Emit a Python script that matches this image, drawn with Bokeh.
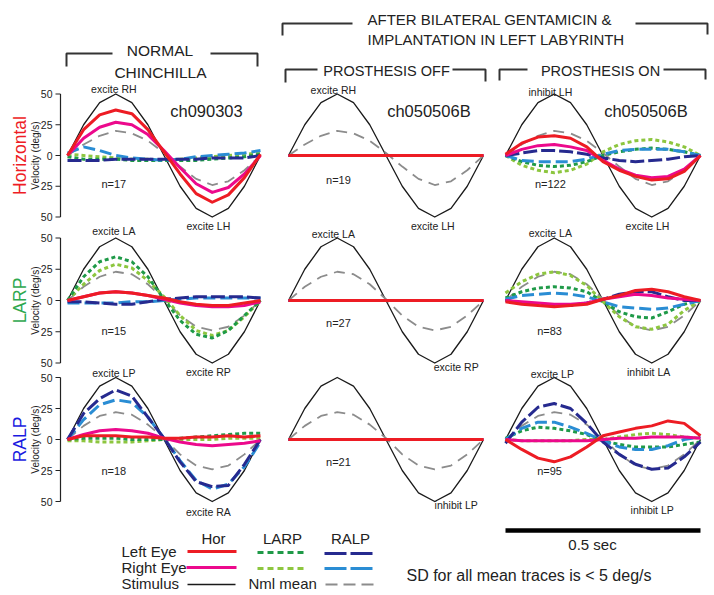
from math import pi
from bokeh.plotting import figure
from bokeh.models import Range1d
from bokeh.core.properties import value
from bokeh.embed import file_html
from bokeh.resources import INLINE

# ---------------- data ----------------
T = [0.0, 0.0417, 0.0833, 0.125, 0.1667, 0.2083, 0.25, 0.2917, 0.3333, 0.375, 0.4167, 0.4583, 0.5]  # s
STIM = [0, 25, 43, 50, 43, 25, 0, -25, -43, -50, -43, -25, 0]
NML_HOR = [0, 9, 16, 20, 18, 12, 2, -9, -19, -24, -21, -12, 0]
NML_LARP = [0, 11, 19, 23, 21, 13, 1, -12, -21, -24, -21, -12, 0]
NML_RALP = [0, 11, 19, 22, 20, 12, 1, -12, -21, -24, -21, -12, 0]
FLAT = [0, 0, 0, 0, 0, 0, 0, 0, 0, 0, 0, 0, 0]

HOR_NORMAL = dict(
    hor_L=[0, 21, 33, 37, 34, 21, 3, -15, -31, -38, -32, -18, 1],
    hor_R=[0, 14, 23, 27, 25, 17, 4, -10, -23, -30, -26, -15, 0],
    larp_L=[-1, -3, -3, -3, -4, -4, -4, -4, -4, -3, -2, -1, 1],
    larp_R=[1, 0, -1, -2, -3, -3, -4, -3, -2, -1, 0, 1, 2],
    ralp_L=[-4, -4, -4, -3, -3, -3, -3, -3, -3, -2, -2, -2, 0],
    ralp_R=[2, 7, 4, 0, -2, -3, -4, -3, -1, 0, 1, 2, 4])
LARP_NORMAL = dict(
    hor_L=[0, 3, 6, 7, 6, 4, 2, -1, -3, -4, -4, -2, 0],
    hor_R=[0, 3, 6, 7, 6, 4, 1, -2, -4, -5, -5, -4, -1],
    larp_L=[0, 19, 31, 35, 31, 19, 1, -16, -27, -30, -24, -12, 0],
    larp_R=[0, 13, 24, 29, 26, 16, 3, -12, -24, -28, -24, -13, 0],
    ralp_L=[-1, -1, -2, -3, -3, -1, 1, 2, 3, 3, 3, 3, 2],
    ralp_R=[-2, -2, -2, -2, -1, -1, 0, 1, 2, 2, 2, 2, 2])
RALP_NORMAL = dict(
    hor_L=[0, 3, 3, 3, 2, 2, 1, 1, 2, 2, 3, 2, 3],
    hor_R=[0, 4, 7, 8, 7, 5, 1, -2, -4, -5, -4, -3, -1],
    larp_L=[0, 1, 1, 1, 0, 0, 0, 1, 2, 3, 4, 5, 5],
    larp_R=[-1, -1, -2, -2, -2, -1, 0, 0, 0, 0, 1, 1, 1],
    ralp_L=[0, 21, 33, 40, 35, 18, 1, -18, -34, -38, -37, -20, 0],
    ralp_R=[0, 16, 28, 32, 30, 18, 1, -17, -33, -40, -36, -22, -2])
PROSTHESIS_OFF = dict(hor_L=FLAT, hor_R=FLAT, larp_L=FLAT, larp_R=FLAT, ralp_L=FLAT, ralp_R=FLAT)
HOR_ON = dict(
    hor_L=[1, 10, 15, 16, 14, 7, -5, -12, -17, -20, -19, -13, 0],
    hor_R=[0, 5, 8, 9, 7, 4, -4, -11, -16, -18, -17, -11, 0],
    larp_L=[0, -5, -8, -9, -8, -5, 0, 3, 5, 6, 5, 3, 0],
    larp_R=[0, -8, -12, -14, -12, -7, 3, 9, 12, 13, 11, 7, 0],
    ralp_L=[0, 2, 4, 4, 3, 1, -2, -4, -5, -4, -3, -1, 0],
    ralp_R=[0, -4, -5, -5, -5, -3, 1, 4, 5, 5, 5, 3, 0])
LARP_ON = dict(
    hor_L=[-1, -3, -4, -5, -4, -3, 1, 4, 8, 9, 7, 3, 0],
    hor_R=[0, -1, -2, -3, -3, -2, 1, 3, 5, 4, 2, 1, 0],
    larp_L=[2, 7, 10, 11, 10, 7, -1, -9, -13, -14, -9, -3, 0],
    larp_R=[6, 15, 21, 23, 20, 12, -1, -13, -21, -23, -19, -8, 0],
    ralp_L=[0, -2, -3, -4, -4, -2, 1, 5, 7, 7, 3, 0, 0],
    ralp_R=[1, 4, 5, 6, 5, 3, -1, -5, -6, -7, -6, -3, 0])
RALP_ON = dict(
    hor_L=[0, -8, -15, -18, -14, -6, 3, 6, 9, 11, 15, 13, 3],
    hor_R=[0, -1, -1, -1, -1, -1, 0, 1, 1, 2, 2, 2, 1],
    larp_L=[1, 7, 10, 9, 7, 4, -1, -4, -6, -6, -6, -4, -2],
    larp_R=[0, -1, -1, -1, -1, 0, 0, 2, 4, 5, 4, 2, 1],
    ralp_L=[-3, 14, 26, 29, 25, 13, -2, -12, -20, -24, -23, -14, -2],
    ralp_R=[0, 9, 14, 14, 10, 5, -1, -6, -8, -8, -5, 0, 2])

PANELS = [[HOR_NORMAL, PROSTHESIS_OFF, HOR_ON],
          [LARP_NORMAL, PROSTHESIS_OFF, LARP_ON],
          [RALP_NORMAL, PROSTHESIS_OFF, RALP_ON]]
NML = [NML_HOR, NML_LARP, NML_RALP]

ROW_LABELS = ["Horizontal", "LARP", "RALP"]
ROW_COLORS = ["#ee1c25", "#2fa84f", "#1a1ae0"]
TICKS = [50, 25, 0, -25, -50]
TICK_LABELS = ["50", "25", "0", "25", "50"]
CH_LABELS = ["ch090303", "ch050506B", "ch050506B"]
N_LABELS = [["n=17", "n=19", "n=122"], ["n=15", "n=27", "n=83"], ["n=18", "n=21", "n=95"]]
TOP_LABELS = [["excite RH", "excite RH", "inhibit LH"],
              ["excite LA", "excite LA", "excite LA"],
              ["excite LP", "", "excite LP"]]
BOTTOM_LABELS = [["excite LH", "excite LH", "excite LH"],
                 ["excite RP", "excite RP", "inhibit LA"],
                 ["excite RA", "inhibit LP", "inhibit LP"]]

# ---------------- layout / styles ----------------
W, H = 714, 595
COL_X0 = [67, 288, 505]        # px of t = 0 in each column
COL_PX = [193, 195, 195]       # px spanned by 0.5 s
ROW_Y0 = [155, 300, 439]       # px of 0 deg/s in each row
ROW_K = [1.23, 1.25, 1.24]     # px per deg/s

FONT = value("Liberation Sans")
INK = "#222222"
RED, PINK = "#ed1c24", "#ec098c"
DGREEN, LGREEN = "#1f9a48", "#8dc63f"
NAVY, BLUE = "#262a8f", "#2a8dd4"
GRAY = "#8c8c8c"

TRACE_STYLE = [
    ("larp_R", LGREEN, 3, "4 3"),
    ("larp_L", DGREEN, 3, "4 3"),
    ("ralp_R", BLUE, 3, "12 5"),
    ("ralp_L", NAVY, 3, "14 4"),
    ("hor_R", PINK, 3, "solid"),
    ("hor_L", RED, 3, "solid"),
]

p = figure(width=W, height=H, output_backend="svg", toolbar_location=None,
           x_range=Range1d(0, W), y_range=Range1d(H, 0),
           x_axis_type=None, y_axis_type=None, min_border=0,
           outline_line_color=None, background_fill_color="white")
p.grid.visible = False

for c in range(3):
    k = COL_PX[c] / 0.5
    p.extra_x_ranges[f"c{c}"] = Range1d(-COL_X0[c] / k, (W - COL_X0[c]) / k)
for r in range(3):
    p.extra_y_ranges[f"r{r}"] = Range1d(-(H - ROW_Y0[r]) / ROW_K[r], ROW_Y0[r] / ROW_K[r])


def t_of(px, c):
    return (px - COL_X0[c]) / (COL_PX[c] / 0.5)


def txt(x, y, s, size, xr="default", yr="default", align="center", base="middle",
        color=INK, angle=0.0):
    p.text(x=[x], y=[y], text=[s], x_range_name=xr, y_range_name=yr,
           text_font=FONT, text_font_size=size, text_color=color,
           text_align=align, text_baseline=base, angle=angle)


TOP_POS = [[(0.12, 54), (0.115, 53), (0.115, 52)],
           [(0.12, 56), (0.115, 53), (0.115, 54)],
           [(0.12, 54), (0.12, 54), (0.12, 53)]]
BOT_POS = [[(0.365, -57.5), (0.37, -57.5), (0.364, -57)],
           [(0.365, -57), (0.43, -53), (0.367, -57.5)],
           [(0.365, -58.5), (0.43, -53), (0.376, -57)]]
N_POS = [[(0.12, -23), (0.128, -20), (0.115, -23)],
         [(0.12, -24), (0.128, -18), (0.113, -24)],
         [(0.12, -25), (0.128, -18.5), (0.113, -25)]]

for r in range(3):
    yr = f"r{r}"
    for c in range(3):
        xr = f"c{c}"
        kw = dict(x_range_name=xr, y_range_name=yr, line_join="round")
        p.line(T, STIM, line_color="#1a1a1a", line_width=1.3, **kw)
        p.line(T, NML[r], line_color=GRAY, line_width=1.8, line_dash="11 7", **kw)
        d = PANELS[r][c]
        for key, col, wd, dash in TRACE_STYLE:
            p.line(T, d[key], line_color=col, line_width=wd, line_dash=dash, **kw)
        if TOP_LABELS[r][c]:
            txt(*TOP_POS[r][c], TOP_LABELS[r][c], "10.5px", xr, yr)
        txt(*BOT_POS[r][c], BOTTOM_LABELS[r][c], "10.5px", xr, yr)
        txt(*N_POS[r][c], N_LABELS[r][c], "11px", xr, yr)
        if r == 0:
            txt(0.36, 36.5, CH_LABELS[c], "16.5px", xr, yr)

    # hand-drawn y axis of the first column
    ax = t_of(60, 0)
    p.segment(x0=[ax], y0=[-50], x1=[ax], y1=[50], x_range_name="c0", y_range_name=yr,
              line_color=INK, line_width=1.2)
    p.segment(x0=[t_of(55, 0)] * len(TICKS), y0=TICKS, x1=[ax] * len(TICKS), y1=TICKS,
              x_range_name="c0", y_range_name=yr, line_color=INK, line_width=1.2)
    p.text(x=[t_of(52, 0)] * len(TICKS), y=TICKS, text=TICK_LABELS,
           x_range_name="c0", y_range_name=yr, text_font=FONT, text_font_size="10.5px",
           text_color=INK, text_align="right", text_baseline="middle")
    txt(t_of(35, 0), 0, "Velocity (deg/s)", "10px", "c0", yr, base="alphabetic", angle=pi / 2)
    txt(t_of(19, 0), 0, ROW_LABELS[r], "17.5px", "c0", yr, base="alphabetic",
        color=ROW_COLORS[r], angle=pi / 2)

# ---------------- headers ----------------
BR = dict(line_color="#333333", line_width=2)
p.multi_line(xs=[[66, 66, 112], [210, 257, 257]], ys=[[66, 53, 53], [53, 53, 66]], **BR)
p.multi_line(xs=[[282, 282, 352], [635, 707, 707]], ys=[[35, 23, 23], [23, 23, 34]], **BR)
p.multi_line(xs=[[285, 285, 317], [452, 485, 485]], ys=[[82, 69, 69], [69, 69, 81]], **BR)
p.multi_line(xs=[[499, 499, 527], [663, 705, 705]], ys=[[80, 69, 69], [69, 69, 79]], **BR)
txt(159.5, 50, "NORMAL", "15.5px", base="alphabetic")
txt(160, 71.7, "CHINCHILLA", "15.5px", base="alphabetic")
txt(367, 18.5, "AFTER BILATERAL GENTAMICIN &", "15px", align="left", base="alphabetic")
txt(367, 38.5, "IMPLANTATION IN LEFT LABYRINTH", "15px", align="left", base="alphabetic")
txt(386, 70.7, "PROSTHESIS OFF", "14.5px", base="alphabetic")
txt(600, 70.7, "PROSTHESIS ON", "14.5px", base="alphabetic")

# ---------------- legend ----------------
txt(213, 538, "Hor", "15px")
txt(282, 538, "LARP", "15px")
txt(350, 538, "RALP", "15px")
txt(121, 551, "Left Eye", "15px", align="left")
txt(121, 567, "Right Eye", "15px", align="left")
txt(121, 583, "Stimulus", "15px", align="left")
txt(248, 583, "Nml mean", "15px", align="left")
p.line([187, 236], [551, 551], line_color=RED, line_width=3)
p.line([186, 236], [567, 567], line_color=PINK, line_width=3)
p.line([187, 235], [584, 584], line_color="#1a1a1a", line_width=1.5)
p.line([257, 305], [552, 552], line_color=DGREEN, line_width=3, line_dash="6 4")
p.line([257, 305], [568, 568], line_color=LGREEN, line_width=3, line_dash="6 4")
p.line([324, 375], [553, 553], line_color=NAVY, line_width=3, line_dash="22 4")
p.line([324, 375], [568, 568], line_color=BLUE, line_width=3, line_dash="22 4")
p.line([325, 373], [584, 584], line_color=GRAY, line_width=1.8, line_dash="12 6")

# 0.5 s scale bar drawn in the time units of the right column
p.line([0, 0.5], [530, 530], x_range_name="c2", line_color="black", line_width=4.5)
txt(592, 544, "0.5 sec", "15px")
txt(406, 575, "SD for all mean traces is < 5 deg/s", "16px", align="left")

open("out.html", "w").write(file_html(p, INLINE))
